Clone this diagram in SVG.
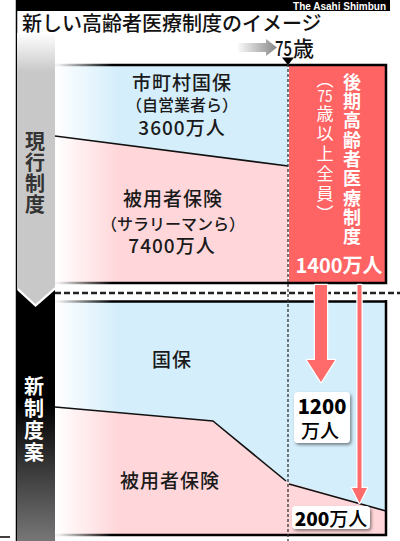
<svg xmlns="http://www.w3.org/2000/svg" width="400" height="541" viewBox="0 0 400 541">
<defs>
<style>
.jp{font-family:'Noto Sans CJK JP','Noto Sans CJK SC',sans-serif}
.lbl{font-size:19px;fill:#1a1a1a;text-anchor:middle;letter-spacing:1px;font-weight:500}
.sub{font-size:16px;letter-spacing:0}
.v{writing-mode:vertical-rl}
.border{stroke:url(#lineFade);stroke-width:2.5;fill:none}
.div{stroke:#111;stroke-width:1.6;fill:none;stroke-linejoin:round}
.blue{fill:#d4eefb}
.pink{fill:#ffd7da}
.arrow{fill:#ff6b6b;stroke:#fff;stroke-width:2.5;paint-order:stroke;stroke-linejoin:round}
.box{fill:#fff;filter:url(#sh)}
</style>
<linearGradient id="bgFade" gradientUnits="userSpaceOnUse" x1="55" y1="0" x2="118" y2="0"><stop offset="0" stop-color="#fff" stop-opacity="1"/><stop offset="1" stop-color="#fff" stop-opacity="0"/></linearGradient>
<linearGradient id="lineFade" gradientUnits="userSpaceOnUse" x1="58" y1="0" x2="112" y2="0"><stop offset="0" stop-color="#000" stop-opacity="0.05"/><stop offset="1" stop-color="#000"/></linearGradient>
<linearGradient id="grayCol" gradientUnits="userSpaceOnUse" x1="0" y1="33" x2="0" y2="72"><stop offset="0" stop-color="#fff"/><stop offset="1" stop-color="#c8c8c8"/></linearGradient>
<linearGradient id="blackCol" gradientUnits="userSpaceOnUse" x1="0" y1="290" x2="0" y2="541"><stop offset="0" stop-color="#000"/><stop offset="0.45" stop-color="#000"/><stop offset="1" stop-color="#777"/></linearGradient>
<linearGradient id="grayArrow" gradientUnits="userSpaceOnUse" x1="236" y1="0" x2="277" y2="0"><stop offset="0" stop-color="#fff"/><stop offset="1" stop-color="#888"/></linearGradient>
<filter id="sh" x="-20%" y="-20%" width="150%" height="160%"><feDropShadow dx="1.5" dy="2" stdDeviation="1.5" flood-color="#000" flood-opacity="0.45"/></filter>
</defs>

<rect width="400" height="541" fill="#fff"/>

<g id="header">
<rect x="16" y="0" width="374" height="11" fill="#000"/>
<text x="386" y="9.5" text-anchor="end" font-family="'Liberation Sans',Arial,sans-serif" font-weight="bold" font-size="10" fill="#fff">The Asahi Shimbun</text>
<line x1="16.5" y1="0" x2="16.5" y2="541" stroke="#000" stroke-width="1.5"/>
<line x1="0" y1="537" x2="10" y2="537" stroke="#000" stroke-width="1.5"/>
<text class="jp" x="22" y="31" font-size="20" font-weight="500" fill="#111">新しい高齢者医療制度のイメージ</text>
</g>

<g id="age-marker">
<path d="M238,43 H266 V39 L277,47.5 L266,56 V52 H238 Z" fill="url(#grayArrow)"/>
<text class="jp" x="275" y="56" font-size="21" font-weight="500" fill="#111" textLength="17" lengthAdjust="spacingAndGlyphs">75</text>
<text class="jp" x="293" y="56" font-size="21" font-weight="500" fill="#111">歳</text>
<path d="M282,57.5 H294 L288,65 Z" fill="#000"/>
</g>

<g id="col-current">
<path d="M17,33 H55 V287 L35.5,304 L17,287 Z" fill="url(#grayCol)"/>
<text class="jp v" x="35" y="131" font-size="20" font-weight="bold" fill="#333" letter-spacing="1">現行制度</text>
</g>

<g id="col-new">
<path d="M17,290 L35.5,307 L55,290 V541 H17 Z" fill="url(#blackCol)"/>
<text class="jp v" x="34" y="376" font-size="20" font-weight="bold" fill="#fff" letter-spacing="2">新制度案</text>
</g>

<g id="panel-current">
<path class="blue" d="M55,65 H288 V166 L55,136 Z"/>
<path class="pink" d="M55,136 L288,166 V283 H55 Z"/>
<rect x="55" y="64" width="70" height="220" fill="url(#bgFade)"/>
<line class="div" x1="55" y1="136" x2="288" y2="166"/>
<line class="border" x1="55" y1="65" x2="289" y2="65"/>
<line class="border" x1="55" y1="283" x2="289" y2="283"/>
<text class="jp lbl" x="182" y="90">市町村国保</text>
<text class="jp lbl sub" x="182" y="111">（自営業者ら）</text>
<text class="jp lbl" x="182" y="135">3600万人</text>
<text class="jp lbl" x="173" y="206">被用者保険</text>
<text class="jp lbl sub" x="173" y="230">（サラリーマンら）</text>
<text class="jp lbl" x="172" y="253">7400万人</text>
</g>

<g id="latter-stage">
<rect x="289" y="65" width="97" height="218" fill="#ff6464"/>
<path d="M288,65 H386 V283 H288" fill="none" stroke="#000" stroke-width="2.5"/>
<text class="jp v" x="352" y="73" font-size="18" font-weight="bold" fill="#fff" letter-spacing="1.3">後期高齢者医療制度</text>
<text class="jp v" x="325" y="71" font-size="17" fill="#fff">（</text>
<text class="jp" x="325" y="102" font-size="16" fill="#fff" text-anchor="middle" textLength="15" lengthAdjust="spacingAndGlyphs">75</text>
<text class="jp v" x="325" y="105" font-size="17" fill="#fff" letter-spacing="3">歳以上全員）</text>
<text class="jp" x="339" y="273" font-size="20" font-weight="bold" fill="#fff" text-anchor="middle">1400万人</text>
</g>

<g id="panel-new">
<rect class="blue" x="55" y="302" width="331" height="233"/>
<path class="pink" d="M55,407 L213,421 L287,482 L386,511 V535 H55 Z"/>
<rect x="55" y="301" width="70" height="235" fill="url(#bgFade)"/>
<polyline class="div" points="55,407 213,421 286,481"/>
<polyline class="div" points="289,484 386,511"/>
<line class="border" x1="55" y1="301.5" x2="387" y2="301.5"/>
<line class="border" x1="55" y1="535" x2="387" y2="535"/>
<line x1="386" y1="300" x2="386" y2="536" stroke="#000" stroke-width="2.5"/>
<text class="jp lbl" x="172" y="367">国保</text>
<text class="jp lbl" x="170" y="488">被用者保険</text>
</g>

<g id="connectors">
<line x1="55" y1="293" x2="400" y2="293" stroke="#222" stroke-width="2.5" stroke-dasharray="6 3"/>
<line x1="288" y1="64" x2="288" y2="541" stroke="#333" stroke-width="1.3" stroke-dasharray="3 2"/>
<path class="arrow" d="M315,285 H327 V360 H335 L321,382 L307,360 H315 Z"/>
<path class="arrow" d="M357.5,285 H361.5 V488 H367 L359.5,503 L352,488 H357.5 Z"/>
</g>

<g id="label-1200">
<rect class="box" x="294" y="392" width="56" height="51" rx="4"/>
<text class="jp" x="322" y="414" font-size="20" font-weight="900" fill="#000" text-anchor="middle">1200</text>
<text class="jp" x="320" y="438" font-size="19" font-weight="500" fill="#000" text-anchor="middle">万人</text>
</g>

<g id="label-200">
<rect class="box" x="292" y="506" width="78" height="23" rx="4"/>
<text class="jp" x="331" y="526" font-size="19" fill="#000" text-anchor="middle"><tspan font-weight="900">200</tspan><tspan font-weight="500">万人</tspan></text>
</g>
</svg>
